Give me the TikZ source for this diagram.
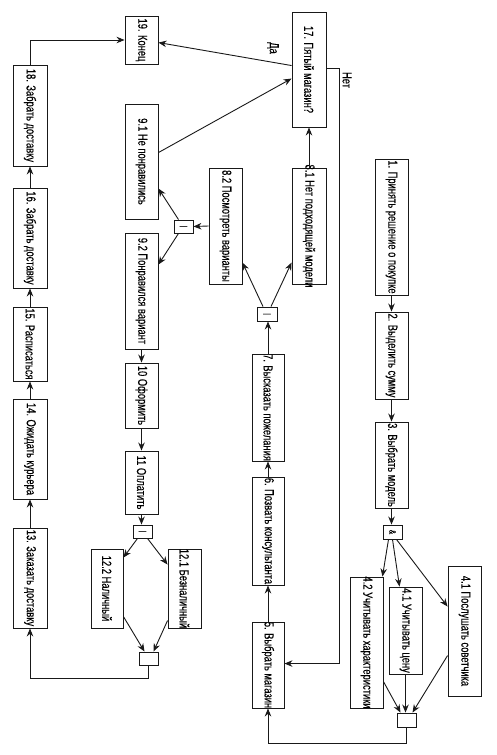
\documentclass[tikz,border=0pt]{standalone}
\usepackage{fontspec}
\setmainfont{Liberation Sans}[FakeStretch=0.72,FakeBold=0.3]
\usepackage{graphicx}
\usetikzlibrary{arrows.meta,calc}
\newcommand{\vt}[1]{\rotatebox{-90}{\makebox[0pt]{#1}}}
\begin{document}
\begin{tikzpicture}[x=1pt,y=1pt,
 box/.style={draw=black!90, line width=0.9pt, inner sep=0pt, font=\fontsize{13}{13}\selectfont, text=black},
 jn/.style={draw=black!90, line width=0.9pt, inner sep=0pt, minimum width=19pt, minimum height=13pt, text=black},
 arr/.style={draw=black!90, line width=0.9pt, -{Stealth[length=8pt,width=6.5pt]}},
 ln/.style={draw=black!90, line width=0.9pt},
 lbl/.style={font=\fontsize{13}{13}\selectfont, inner sep=0pt, text=black}]
\useasboundingbox[fill=white] (0,0) rectangle (496,-755);

% left column
\node[box, minimum width=33pt, minimum height=48pt] (n19) at (141.5,-40) {\vt{19. Конец}};
\node[box, minimum width=34pt, minimum height=101pt] (n18) at (30,-115.5) {\vt{18. Забрать доставку}};
\node[box, minimum width=34pt, minimum height=100pt] (n16) at (30,-238) {\vt{16. Забрать доставку}};
\node[box, minimum width=34pt, minimum height=74pt] (n15) at (30,-344) {\vt{15. Расписаться}};
\node[box, minimum width=34pt, minimum height=100pt] (n14) at (30,-449) {\vt{14. Ожидать курьера}};
\node[box, minimum width=34pt, minimum height=100pt] (n13) at (30,-578) {\vt{13. Заказать доставку}};

% second column
\node[box, minimum width=33pt, minimum height=115pt] (n91) at (141.5,-161.5) {\vt{9.1 Не понравились}};
\node[box, minimum width=33pt, minimum height=116pt] (n92) at (141.5,-291) {\vt{9.2 Понравился вариант}};
\node[box, minimum width=33pt, minimum height=65pt] (n10) at (141.5,-395.5) {\vt{10 Оформить}};
\node[box, minimum width=33pt, minimum height=63pt] (n11) at (141.5,-482.5) {\vt{11 Оплатить}};
\node[jn] (s11) at (142.5,-531.5) {\fontsize{8}{8}\selectfont\vt{|}};
\node[box, minimum width=32pt, minimum height=79pt] (n122) at (107,-588.5) {\vt{12.2 Наличный}};
\node[box, minimum width=33pt, minimum height=79pt] (n121) at (184.5,-588.5) {\vt{12.1 Безналичный}};
\node[jn] (j12) at (148.5,-658.5) {};

% third column
\node[jn] (s9) at (183.5,-226.5) {\fontsize{8}{8}\selectfont\vt{|}};
\node[box, minimum width=33pt, minimum height=116pt] (n82) at (225.5,-226) {\vt{8.2 Посмотреть варианты}};
\node[box, minimum width=34pt, minimum height=115pt] (n17) at (309,-69.5) {\vt{17. Пятый магазин?}};
\node[box, minimum width=34pt, minimum height=116pt] (n81) at (309,-226) {\vt{8.1 Нет подходящей модели}};
\node[jn, minimum width=20pt, minimum height=14pt] (s7) at (267,-314) {\fontsize{8}{8}\selectfont\vt{|}};
\node[box, minimum width=32pt, minimum height=107pt] (n7) at (268,-407.5) {\vt{7. Высказать пожелания}};
\node[box, minimum width=32pt, minimum height=108pt] (n6) at (268,-531) {\vt{6. Позвать консультанта}};
\node[box, minimum width=32pt, minimum height=86pt] (n5) at (268,-665) {\vt{5. Выбрать магазин}};

% right column
\node[box, minimum width=33pt, minimum height=136pt] (n1) at (391.5,-227) {\vt{1. Принять решение о покупке}};
\node[box, minimum width=33pt, minimum height=87pt] (n2) at (391.5,-355.5) {\vt{2. Выделить сумму}};
\node[box, minimum width=33pt, minimum height=86pt] (n3) at (391.5,-465) {\vt{3. Выбрать модель}};
\node[jn, minimum height=14pt] (sand) at (392.5,-532) {\fontsize{9}{9}\selectfont\vt{\&}};
\node[box, minimum width=33pt, minimum height=131pt] (n42) at (366.5,-642.5) {\vt{4.2 Учитывать характеристики}};
\node[box, minimum width=33pt, minimum height=87pt] (n41c) at (405.5,-630.5) {\vt{4.1 Учитывать цену}};
\node[box, minimum width=33pt, minimum height=130pt] (n41s) at (464.5,-631) {\vt{4.1 Послушать советчика}};
\node[jn, minimum height=14pt] (j4) at (406.5,-720) {};

% labels
\node[lbl] (lda) at (273,-48) {\vt{Да}};
\node[lbl] (lnet) at (347,-80) {\vt{Нет}};

% connectors left column
\draw[arr] (n13.north) -- (n14.south);
\draw[arr] (n14.north) -- (n15.south);
\draw[arr] (n15.north) -- (n16.south);
\draw[arr] (n16.north) -- (n18.south);
\draw[arr] (n18.north) |- (n19.west);

% decision 17
\draw[arr] ($(n17.north west)+(0,-54)$) -- ($(n19.north east)+(0,-27)$);
\draw[arr] ($(n91.north east)+(0,-49)$) -- ($(n17.north west)+(0,-67)$);
\draw[arr] (n81.north) -- (n17.south);
\draw[arr] ($(n17.north east)+(0,-57)$) -- ++(13,0) |- ($(n5.north east)+(0,-42)$);

% right column
\draw[arr] (n1.south) -- (n2.north);
\draw[arr] (n2.south) -- (n3.north);
\draw[arr] (n3.south) -- (n3.south |- sand.north);
\draw[arr] ($(sand.south)+(-4,0)$) -- ($(n42.north east)+(-1,0)$);
\draw[arr] (sand.south) -- ($(n41c.north)+(-6,0)$);
\draw[arr] ($(sand.south)+(4,0)$) -- ($(n41s.north west)+(0,-41)$);
\draw[arr] ($(n42.north east)+(0,-105)$) -- ($(j4.north)+(-6,0)$);
\draw[arr] (n41c.south) -- (n41c.south |- j4.north);
\draw[arr] ($(n41s.north west)+(0,-90)$) -- ($(j4.north)+(6,0)$);
\draw[arr] (j4.south) -- ++(0,-16) -| (n5.south);

% third column
\draw[arr] (n5.north) -- (n6.south);
\draw[arr] (n6.north) -- (n7.south);
\draw[arr] (n7.north) -- (n7.north |- s7.south);
\draw[arr] ($(s7.north)+(-4,0)$) -- ($(n82.north east)+(0,-95)$);
\draw[arr] ($(s7.north)+(4,0)$) -- ($(n81.north west)+(0,-95)$);
\draw[arr] (n82.west) -- (s9.east);
\draw[arr] ($(s9.north)+(-5,0)$) -- ($(n91.north east)+(0,-85)$);
\draw[arr] ($(s9.south)+(-5,0)$) -- ($(n92.north east)+(0,-32)$);

% second column
\draw[arr] (n92.south) -- (n10.north);
\draw[arr] (n10.south) -- (n11.north);
\draw[arr] (n11.south) -- (n11.south |- s11.north);
\draw[arr] ($(s11.south)+(-5,0)$) -- ($(n122.north east)+(0,-9)$);
\draw[arr] ($(s11.south)+(5,0)$) -- ($(n121.north west)+(0,-16)$);
\draw[arr] ($(n122.north east)+(0,-68)$) -- ($(j12.north)+(-4,0)$);
\draw[arr] ($(n121.north west)+(0,-72)$) -- ($(j12.north)+(5,0)$);
\draw[arr] (j12.south) -- ++(0,-13) -| (n13.south);
\end{tikzpicture}
\end{document}
